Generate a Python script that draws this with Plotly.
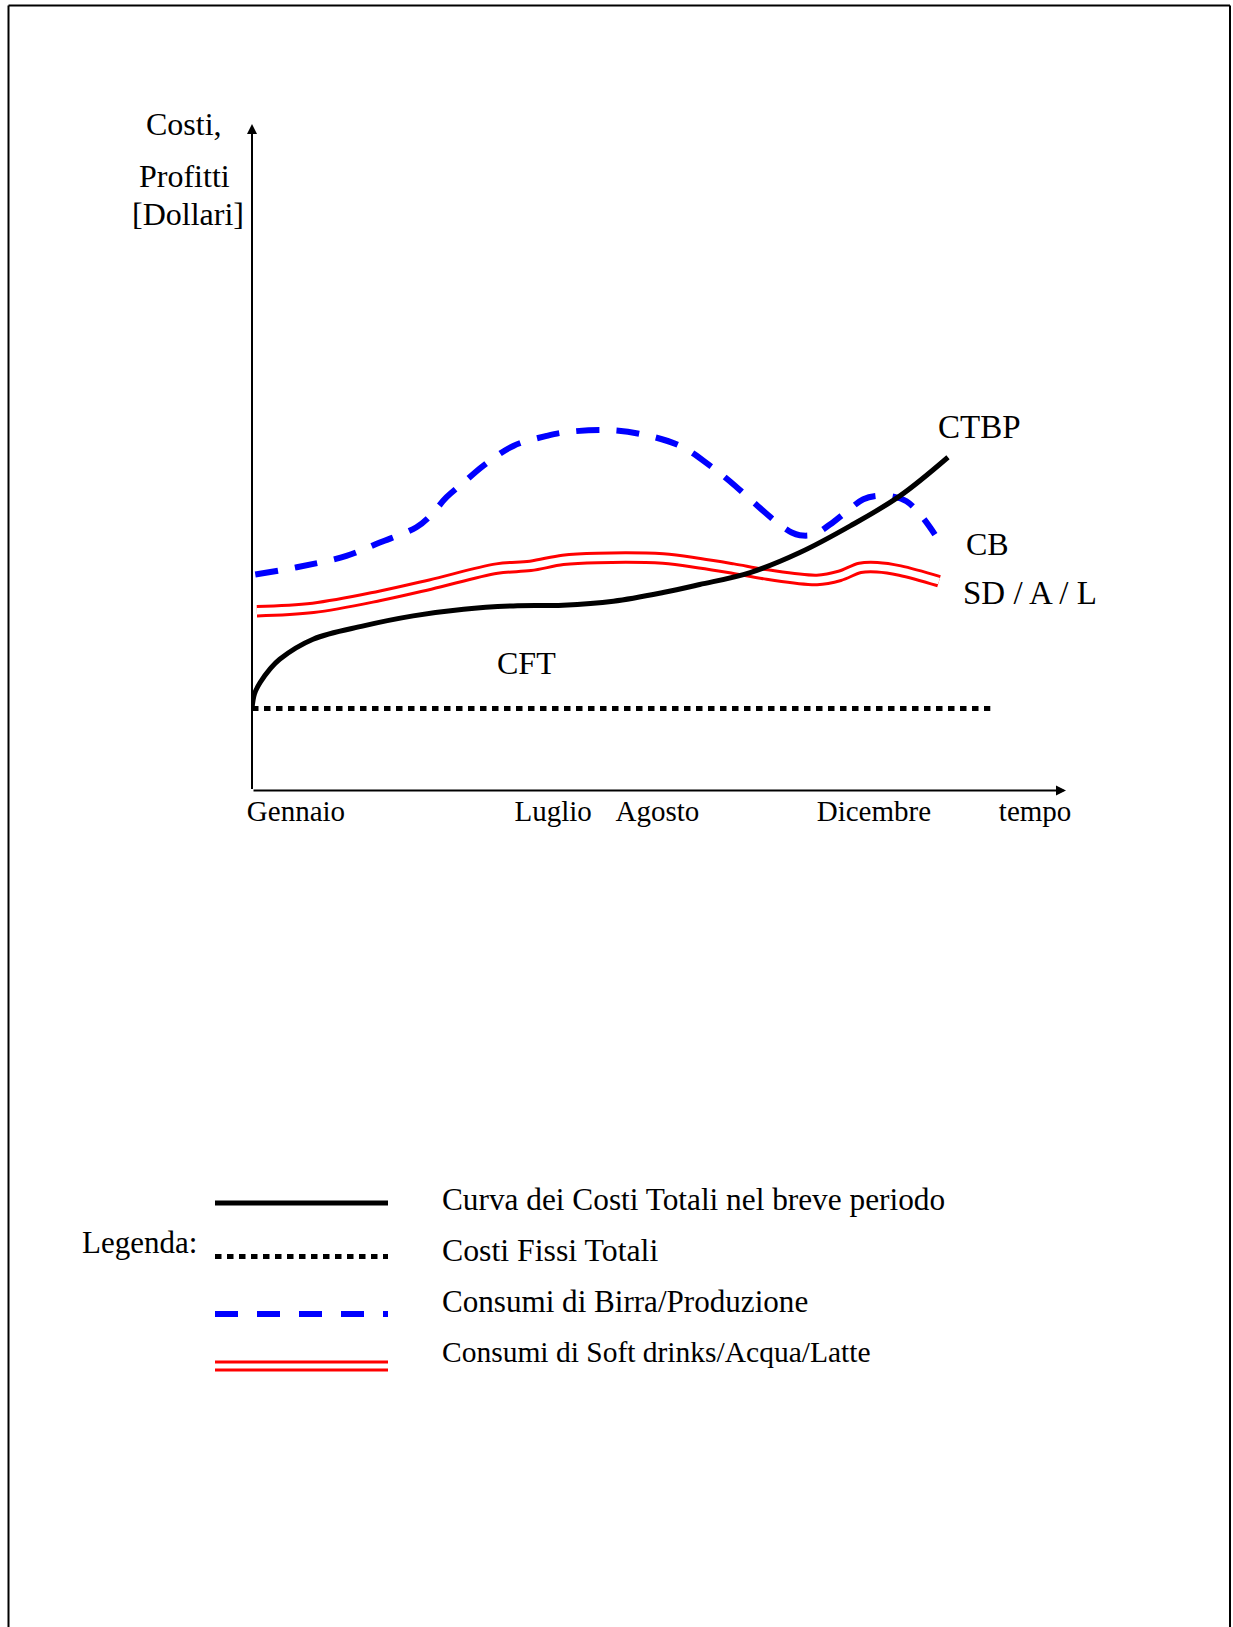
import plotly.graph_objects as go

# ---------------- data (diagram units: x = tempo 0..100, y = costi 0..100) ----------------
time_ticks = [5.4, 37.0, 49.8, 76.4, 96.2]
time_labels = ["Gennaio", "Luglio", "Agosto", "Dicembre", "tempo"]

series_names = [
    "Curva dei Costi Totali nel breve periodo",
    "Costi Fissi Totali",
    "Consumi di Birra/Produzione",
    "Consumi di Soft drinks/Acqua/Latte",
]
series_tags = ["CTBP", "CFT", "CB", "SD / A / L"]

# CTBP - Curva dei Costi Totali nel breve periodo
ctbp_x = [0.0, 0.3, 1.0, 2.2, 3.4, 7.5, 13.7, 19.8, 26.0, 32.1, 38.2, 44.4, 50.5, 55.0,
          61.2, 67.3, 73.5, 79.6, 85.5]
ctbp_y = [12.3, 14.5, 16.2, 18.2, 19.7, 22.7, 24.7, 26.2, 27.2, 27.7, 27.8, 28.4, 29.7, 30.9,
          32.7, 35.7, 39.7, 44.2, 50.0]

# CFT - Costi Fissi Totali
cft_x = [0.0, 90.7]
cft_y = [12.3, 12.3]

# CB - Consumi di Birra/Produzione
cb_x = [0.4, 5.5, 11.6, 15.7, 20.2, 21.9, 23.9, 26.0, 28.4, 32.1, 36.2, 38.2, 43.2, 47.7,
        52.6, 56.3, 58.7, 61.2, 64.5, 66.3, 67.3, 69.0, 71.0, 73.1, 75.1, 76.7, 78.8, 80.4,
        82.1, 83.9]
cb_y = [32.4, 33.5, 35.2, 37.2, 39.5, 41.2, 44.0, 46.2, 48.7, 51.7, 53.2, 53.7, 54.1, 53.5,
        51.7, 48.7, 46.4, 43.7, 40.2, 38.7, 38.3, 38.4, 39.9, 41.9, 43.7, 44.2, 44.1, 43.4,
        41.4, 38.4]

# SD/A/L - Consumi di Soft drinks/Acqua/Latte
sdal_x = [0.6, 7.5, 15.7, 21.9, 30.1, 34.2, 38.2, 42.4, 50.5, 55.0, 59.1, 63.3, 69.4, 72.2,
          74.7, 76.8, 79.6, 84.4]
sdal_y = [26.9, 27.4, 29.2, 30.9, 33.3, 33.7, 34.6, 34.9, 34.8, 34.1, 33.3, 32.4, 31.6, 32.2,
          33.4, 33.5, 33.0, 31.4]

# ---------------- layout helpers ----------------
W, H = 1233, 1627
FONT = "Liberation Serif, Times New Roman, serif"
BLACK, BLUE, RED = "#000000", "#0000FF", "#FF0000"


def px(x):
    return x / W


def py(y):
    return 1 - y / H


fig = go.Figure()

# double red line: red band with white core
fig.add_trace(go.Scatter(x=sdal_x, y=sdal_y, mode="lines", name=series_names[3],
                         line=dict(color=RED, width=12.5, shape="spline", smoothing=1.0)))
fig.add_trace(go.Scatter(x=sdal_x, y=sdal_y, mode="lines", showlegend=False,
                         line=dict(color="#FFFFFF", width=6.5, shape="spline", smoothing=1.0)))
fig.add_trace(go.Scatter(x=cb_x, y=cb_y, mode="lines", name=series_names[2],
                         line=dict(color=BLUE, width=6, dash="23px,17.1px", shape="spline",
                                   smoothing=1.0)))
fig.add_trace(go.Scatter(x=cft_x, y=cft_y, mode="lines", name=series_names[1],
                         line=dict(color=BLACK, width=5, dash="6.5px,5.5px")))
fig.add_trace(go.Scatter(x=ctbp_x, y=ctbp_y, mode="lines", name=series_names[0],
                         line=dict(color=BLACK, width=5, shape="spline", smoothing=1.0)))

annotations = []
# axes with arrows
annotations.append(dict(x=0, y=100, ax=0, ay=0, xref="x", yref="y", axref="x", ayref="y",
                        showarrow=True, arrowhead=2, arrowsize=1, arrowwidth=2,
                        arrowcolor=BLACK, text=""))
annotations.append(dict(x=100, y=0, ax=0, ay=0, xref="x", yref="y", axref="x", ayref="y",
                        showarrow=True, arrowhead=2, arrowsize=1, arrowwidth=2,
                        arrowcolor=BLACK, text=""))

# y axis title
for txt, cx, cy in [("Costi,", 184, 124), ("Profitti", 184, 176), ("[Dollari]", 188, 214)]:
    annotations.append(dict(x=px(cx), y=py(cy), xref="paper", yref="paper", text=txt,
                            showarrow=False, xanchor="center", yanchor="middle",
                            font=dict(family=FONT, size=32, color=BLACK)))

# curve tags
tag_pos = {"CTBP": (89.4, 54.6), "CB": (90.3, 37.0), "SD / A / L": (95.6, 29.7), "CFT": (33.7, 19.2)}
tag_size = {"CTBP": 33, "CB": 32, "SD / A / L": 33, "CFT": 32}
for tag in series_tags:
    tx, ty = tag_pos[tag]
    annotations.append(dict(x=tx, y=ty, xref="x", yref="y", text=tag, showarrow=False,
                            xanchor="center", yanchor="middle",
                            font=dict(family=FONT, size=tag_size[tag], color=BLACK)))

# legend block
annotations.append(dict(x=px(80), y=py(1242.5), xref="paper", yref="paper", text="Legenda:",
                        showarrow=False, xanchor="left", yanchor="middle",
                        font=dict(family=FONT, size=31, color=BLACK)))
leg_text_y = [1199.5, 1250.5, 1301.5, 1352]
leg_size = [31.3, 31.8, 31.1, 29.5]
for name, ty, fs in zip(series_names, leg_text_y, leg_size):
    annotations.append(dict(x=px(440), y=py(ty), xref="paper", yref="paper", text=name,
                            showarrow=False, xanchor="left", yanchor="middle",
                            font=dict(family=FONT, size=fs, color=BLACK)))

shapes = []
lx0, lx1 = px(215), px(388)
shapes.append(dict(type="line", xref="paper", yref="paper", x0=lx0, x1=lx1, y0=py(1203), y1=py(1203),
                   line=dict(color=BLACK, width=5)))
shapes.append(dict(type="line", xref="paper", yref="paper", x0=lx0, x1=lx1, y0=py(1256.5), y1=py(1256.5),
                   line=dict(color=BLACK, width=5, dash="6.5px,5.5px")))
shapes.append(dict(type="line", xref="paper", yref="paper", x0=lx0, x1=lx1, y0=py(1314), y1=py(1314),
                   line=dict(color=BLUE, width=6, dash="23px,19px")))
for ry in (1362, 1370):
    shapes.append(dict(type="line", xref="paper", yref="paper", x0=lx0, x1=lx1, y0=py(ry), y1=py(ry),
                       line=dict(color=RED, width=3)))

# page border (open at bottom)
bl, br, bt = px(8.5), px(1230), py(5.5)
shapes.append(dict(type="line", xref="paper", yref="paper", x0=bl, x1=bl, y0=0, y1=bt,
                   line=dict(color=BLACK, width=2)))
shapes.append(dict(type="line", xref="paper", yref="paper", x0=br, x1=br, y0=0, y1=bt,
                   line=dict(color=BLACK, width=2)))
shapes.append(dict(type="line", xref="paper", yref="paper", x0=bl, x1=br, y0=bt, y1=bt,
                   line=dict(color=BLACK, width=2)))

fig.update_layout(
    width=W, height=H, autosize=False,
    margin=dict(l=0, r=0, t=0, b=0, pad=0, autoexpand=False),
    paper_bgcolor="white", plot_bgcolor="rgba(0,0,0,0)",
    showlegend=False,
    xaxis=dict(domain=[252 / W, 1066 / W], range=[0, 100], showgrid=False, zeroline=False,
               showline=False, ticks="", tickmode="array", tickvals=time_ticks,
               ticktext=time_labels, tickfont=dict(family=FONT, size=29, color=BLACK),
               fixedrange=True, automargin=False),
    yaxis=dict(domain=[(H - 790.5) / H, (H - 124) / H], range=[0, 100], showgrid=False,
               zeroline=False, showline=False, showticklabels=False, ticks="", fixedrange=True,
               automargin=False),
    annotations=annotations,
    shapes=shapes,
    font=dict(family=FONT),
)

post_js = ("document.body.style.margin='0';document.body.style.padding='0';"
           "document.body.style.overflow='hidden';"
           "document.documentElement.style.overflow='hidden';")
fig.write_html("out.html", config={"displayModeBar": False, "responsive": False},
               post_script=post_js)
